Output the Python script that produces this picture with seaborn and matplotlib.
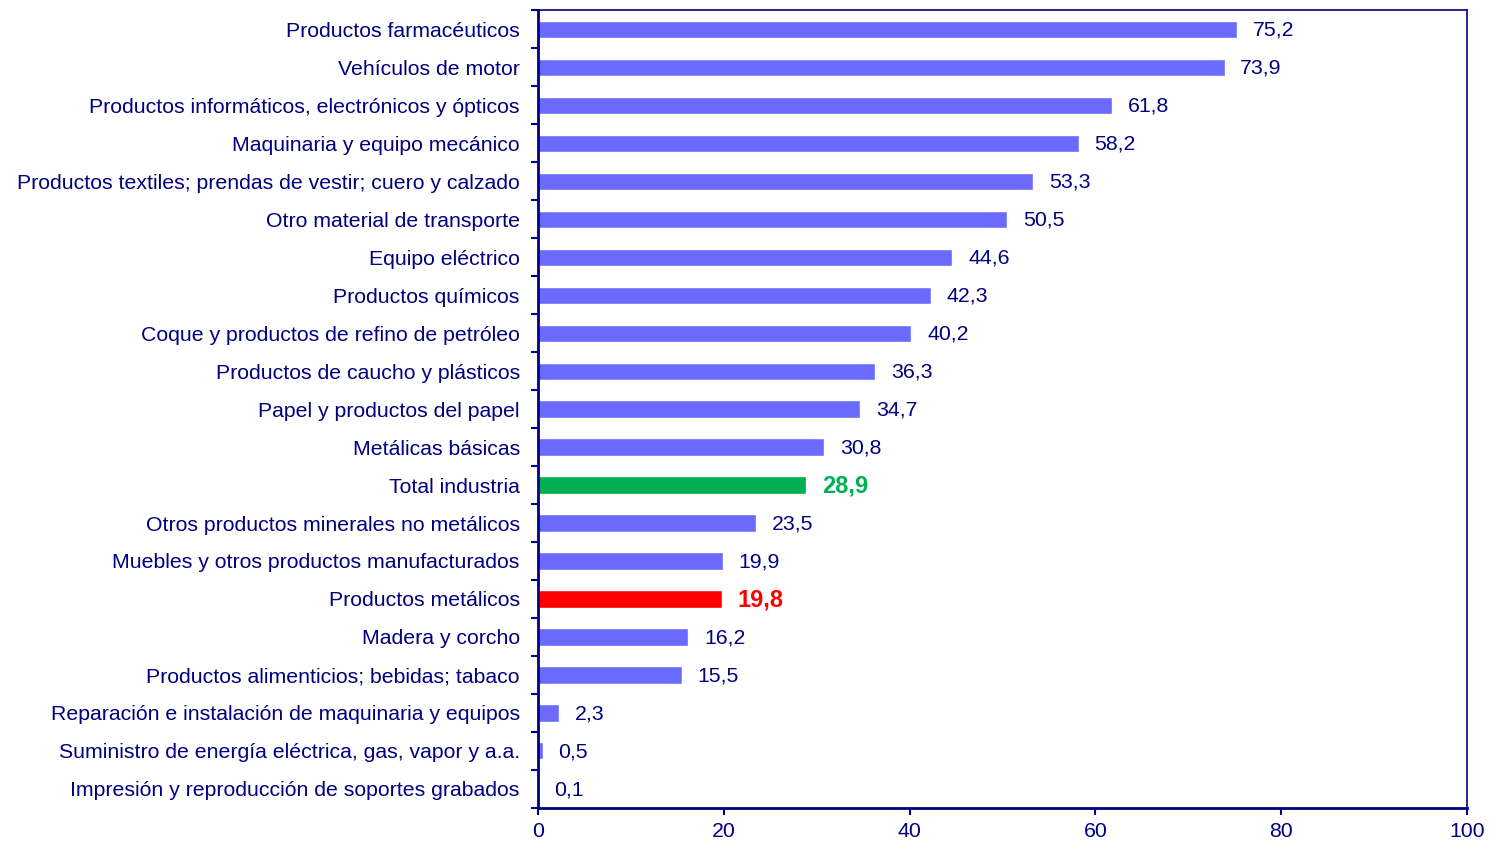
import numpy as np
import pandas as pd
import seaborn as sns
import matplotlib.pyplot as plt
from matplotlib.ticker import FixedLocator

categories = [
    "Productos farmacéuticos",
    "Vehículos de motor",
    "Productos informáticos, electrónicos y ópticos",
    "Maquinaria y equipo mecánico",
    "Productos textiles; prendas de vestir; cuero y calzado",
    "Otro material de transporte",
    "Equipo eléctrico",
    "Productos químicos",
    "Coque y productos de refino de petróleo",
    "Productos de caucho y plásticos",
    "Papel y productos del papel",
    "Metálicas básicas",
    "Total industria",
    "Otros productos minerales no metálicos",
    "Muebles y otros productos manufacturados",
    "Productos metálicos",
    "Madera y corcho",
    "Productos alimenticios; bebidas; tabaco",
    "Reparación e instalación de maquinaria y equipos",
    "Suministro de energía eléctrica, gas, vapor y a.a.",
    "Impresión y reproducción de soportes grabados",
]
values = [75.2, 73.9, 61.8, 58.2, 53.3, 50.5, 44.6, 42.3, 40.2, 36.3, 34.7,
          30.8, 28.9, 23.5, 19.9, 19.8, 16.2, 15.5, 2.3, 0.5, 0.1]
highlight = {"Total industria": "#00B050", "Productos metálicos": "#FF0000"}

navy = "#000080"
base = "#6A6AFF"
fs = 15.3

sns.set_style("white")
plt.rcParams['font.family'] = ['Liberation Sans', 'DejaVu Sans']

df = pd.DataFrame({"cat": categories, "val": values})
palette = {c: highlight.get(c, base) for c in categories}

fig, ax = plt.subplots(figsize=(14.9, 8.46), dpi=100)
fig.subplots_adjust(left=0.361, right=0.9846, top=0.988, bottom=0.045)

sns.barplot(data=df, x="val", y="cat", hue="cat", palette=palette,
            legend=False, width=0.45, saturation=1, ax=ax)

for i, (c, v) in enumerate(zip(categories, values)):
    label = f"{v:.1f}".replace(".", ",")
    if c in highlight:
        ax.text(v + 1.7, i + 0.03, label, va="center", ha="left",
                color=highlight[c], fontsize=17, fontweight="bold")
    else:
        ax.text(v + 1.7, i + 0.03, label, va="center", ha="left", color=navy,
                fontsize=fs)

ax.set_xlim(0, 100)
ax.set_ylim(len(categories) - 0.5, -0.5)
ax.set_xticks([0, 20, 40, 60, 80, 100])
ax.set_xlabel("")
ax.set_ylabel("")

ax.yaxis.set_minor_locator(FixedLocator(np.arange(-0.5, len(categories), 1)))
ax.tick_params(axis="y", which="major", length=0, pad=13, labelsize=fs,
               labelcolor=navy)
ax.tick_params(axis="y", which="minor", length=5, width=1.5, color=navy,
               direction="out", left=True)
ax.tick_params(axis="x", which="major", length=5, width=1.5, color=navy,
               direction="out", bottom=True, labelsize=fs, labelcolor=navy,
               pad=5)

for side in ["left", "right", "top", "bottom"]:
    ax.spines[side].set_visible(True)
    ax.spines[side].set_color(navy)
    ax.spines[side].set_linewidth(1.2)
ax.spines["left"].set_linewidth(2)
ax.spines["bottom"].set_linewidth(2)
ax.grid(False)

fig.savefig("out.png", dpi=100)
